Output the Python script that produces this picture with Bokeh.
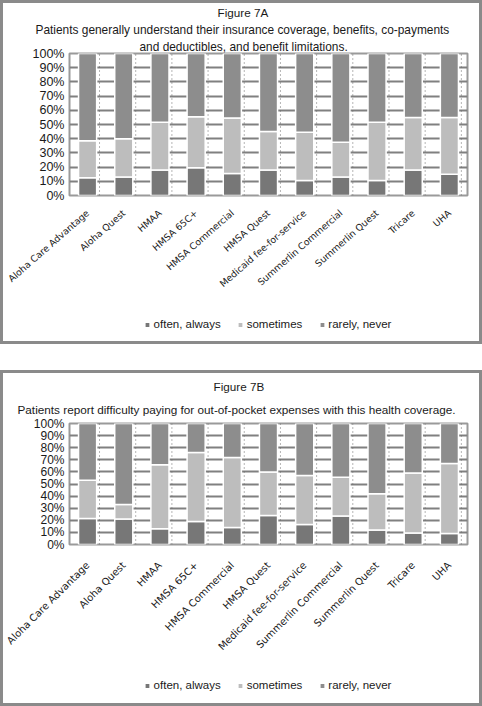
import math
from bokeh.plotting import figure
from bokeh.models import (FactorRange, Range1d, FixedTicker, PrintfTickFormatter,
                          Legend, LegendItem, Title, ColumnDataSource, Spacer)
from bokeh.transform import dodge
from bokeh.layouts import column
from bokeh.embed import file_html
from bokeh.resources import INLINE

plans = ["Aloha Care Advantage", "Aloha Quest", "HMAA", "HMSA 65C+", "HMSA Commercial",
         "HMSA Quest", "Medicaid fee-for-service", "Summerlin Commercial", "Summerlin Quest",
         "Tricare", "UHA"]
series_names = ["often, always", "sometimes", "rarely, never"]
y_ticks = [0, 10, 20, 30, 40, 50, 60, 70, 80, 90, 100]

# Figure 7A
a_title = "Figure 7A"
a_subtitle = ["Patients generally understand their insurance coverage, benefits, co-payments",
              "and deductibles, and benefit limitations."]
a_often = [12.5, 13, 18, 19.5, 15.5, 18, 10.5, 13, 10.5, 18, 15]
a_sometimes = [26, 27, 33.5, 36, 39, 27, 34, 24.5, 41, 37, 40]
a_rarely = [61.5, 60, 48.5, 44.5, 45.5, 55, 55.5, 62.5, 48.5, 45, 45]

# Figure 7B
b_title = "Figure 7B"
b_subtitle = ["Patients report difficulty paying for out-of-pocket expenses with this health coverage."]
b_often = [21.5, 21, 13, 19, 14, 24, 16.5, 23.5, 12, 9.5, 9]
b_sometimes = [31.5, 12, 53, 57, 58, 36, 40.5, 32, 30, 49.5, 58]
b_rarely = [47, 67, 34, 24, 28, 40, 43, 44.5, 58, 41, 33]

COLORS = ["#777777", "#bdbdbd", "#8d8d8d"]
FONT = "Liberation Sans"
TXT = "#1a1a1a"
BORDER = "3px solid #8a8a8a"
W = 482


def add_title(p, text, size, standoff, valign, offset):
    p.add_layout(Title(text=text, align="left", offset=offset, vertical_align=valign,
                       text_font=FONT, text_font_size=size, text_font_style="normal",
                       text_color=TXT, standoff=standoff), "above")


def make_main(height, left, bottom, often, sometimes, rarely, ylab_size, xlab_size,
              xlab_angle, xlab_standoff):
    src = ColumnDataSource(dict(plan=plans, often=often, sometimes=sometimes, rarely=rarely))
    p = figure(x_range=FactorRange(factors=plans, range_padding=0), y_range=Range1d(0, 100),
               width=W, height=height, output_backend="svg", toolbar_location=None,
               min_border_left=left, min_border_right=18, min_border_top=0,
               min_border_bottom=bottom,
               background_fill_color="white", border_fill_color="white",
               outline_line_color="#9a9a9a", outline_line_width=2)
    p.styles = {"border-top": BORDER, "border-left": BORDER, "border-right": BORDER}
    p.segment(x0=dodge("plan", 0.33, range=p.x_range), y0=0,
              x1=dodge("plan", 0.33, range=p.x_range), y1=100, source=src,
              line_color="#6a6a6a", line_width=1, line_dash="1 3")
    p.vbar_stack(["often", "sometimes", "rarely"], x="plan", width=0.5, source=src,
                 fill_color=COLORS, line_color="white", line_width=1.5)
    p.xgrid.grid_line_color = None
    p.ygrid.grid_line_color = "#808080"
    p.ygrid.grid_line_width = 2
    p.yaxis.ticker = FixedTicker(ticks=y_ticks)
    p.yaxis.formatter = PrintfTickFormatter(format="%d%%")
    p.yaxis.major_label_text_font = FONT
    p.yaxis.major_label_text_font_size = ylab_size
    p.yaxis.major_label_text_color = TXT
    p.yaxis.major_label_standoff = 5
    for ax in (p.xaxis[0], p.yaxis[0]):
        ax.axis_line_color = None
        ax.major_tick_line_color = None
        ax.minor_tick_line_color = None
        ax.major_tick_out = 0
        ax.major_tick_in = 0
    p.xaxis.major_label_orientation = xlab_angle
    p.xaxis.major_label_text_font = "DejaVu Sans"
    p.xaxis.major_label_text_font_size = xlab_size
    p.xaxis.major_label_text_color = TXT
    p.xaxis.major_label_standoff = xlab_standoff
    return p, src


def make_legend(height, src, top_margin):
    # legend strip: the same stacked bars, kept far out of view, only feed the legend swatches
    lf = figure(width=W, height=height, output_backend="svg", toolbar_location=None,
                x_range=FactorRange(factors=plans, range_padding=0), y_range=Range1d(1000, 1001),
                x_axis_type=None, y_axis_type=None, min_border=0, outline_line_color=None,
                background_fill_color="white", border_fill_color="white")
    lf.grid.visible = False
    lf.styles = {"border-bottom": BORDER, "border-left": BORDER, "border-right": BORDER}
    rs = lf.vbar_stack(["often", "sometimes", "rarely"], x="plan", width=0.5, source=src,
                       fill_color=COLORS, line_color=None)
    legend = Legend(items=[LegendItem(label=n, renderers=[r]) for n, r in zip(series_names, rs)],
                    orientation="horizontal", location="top_center", label_text_font=FONT,
                    label_text_font_size="11.5px", label_text_color=TXT, glyph_width=5,
                    glyph_height=5, label_height=12, border_line_color=None,
                    background_fill_alpha=0, spacing=17, padding=2, margin=top_margin,
                    label_standoff=4)
    lf.add_layout(legend, "center")
    return lf


pa, src_a = make_main(314, 65, 122, a_often, a_sometimes, a_rarely, "12.5px", "9.3px", 0.72, 16)
add_title(pa, a_subtitle[1], "11.9px", 0, "bottom", 70)
add_title(pa, a_subtitle[0], "11.9px", 0, "middle", -34)
add_title(pa, a_title, "11.7px", 3, "middle", 148)
la = make_legend(30, src_a, 4)

pb, src_b = make_main(306, 66, 135, b_often, b_sometimes, b_rarely, "12px", "10px", math.pi / 4, 19)
add_title(pb, b_subtitle[0], "11.75px", 11, "top", -52)
add_title(pb, b_title, "11.7px", 9, "bottom", 144)
lb = make_legend(30, src_b, 3)

layout = column(pa, la, Spacer(height=26, width=W), pb, lb, spacing=0)
open("out.html", "w").write(file_html(layout, INLINE))
